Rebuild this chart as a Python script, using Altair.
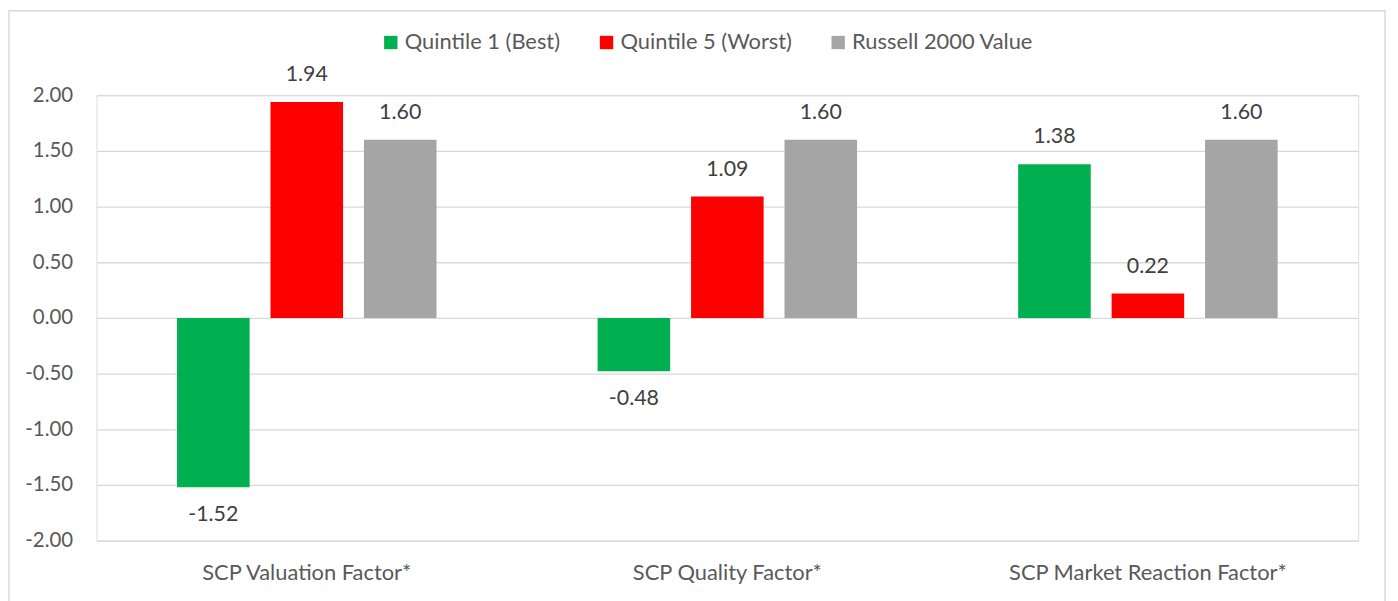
import altair as alt
import pandas as pd

categories = ["SCP Valuation Factor*", "SCP Quality Factor*", "SCP Market Reaction Factor*"]
series = ["Quintile 1 (Best)", "Quintile 5 (Worst)", "Russell 2000 Value"]
q1_best = [-1.52, -0.48, 1.38]
q5_worst = [1.94, 1.09, 0.22]
russell = [1.60, 1.60, 1.60]
y_ticks = [-2.0, -1.5, -1.0, -0.5, 0.0, 0.5, 1.0, 1.5, 2.0]
colors = ["#00B050", "#FF0000", "#A5A5A5"]

rows = []
for s, vals in zip(series, [q1_best, q5_worst, russell]):
    for c, v in zip(categories, vals):
        rows.append({"category": c, "series": s, "value": v})
df = pd.DataFrame(rows)

FONT = "Lato"
TXT = "#595959"

x_enc = alt.X("category:N", sort=categories, title=None,
              scale=alt.Scale(paddingInner=0, paddingOuter=0),
              axis=alt.Axis(labelAngle=0, ticks=False, domain=False, grid=False,
                            labelPadding=22, labelFontSize=22, labelFont=FONT,
                            labelColor=TXT, labelLimit=0))
xoff_enc = alt.XOffset("series:N", sort=series,
                       scale=alt.Scale(paddingInner=0.2234, paddingOuter=0.862))
y_enc = alt.Y("value:Q", title=None,
              scale=alt.Scale(domain=[-2, 2], nice=False, zero=False),
              axis=alt.Axis(values=y_ticks, format=".2f", ticks=False, domain=False,
                            labelExpr="replace(datum.label, '\u2212', '-')",
                            labelPadding=24, labelFontSize=20.5, labelFont=FONT,
                            labelColor=TXT, gridColor="#D9D9D9", gridWidth=1.3,
                            labelLimit=0))

base = alt.Chart(df).encode(x=x_enc, xOffset=xoff_enc).transform_calculate(
    label="replace(format(datum.value, '.2f'), '\u2212', '-')"
)

bars = base.mark_bar().encode(
    y=y_enc,
    y2=alt.datum(0),
    color=alt.Color("series:N", sort=series,
                    scale=alt.Scale(domain=series, range=colors),
                    legend=alt.Legend(title=None, orient="none", direction="horizontal",
                                      legendX=285, legendY=-64, symbolType="square",
                                      symbolSize=180, symbolStrokeWidth=0,
                                      labelFontSize=22, labelFont=FONT, labelColor=TXT,
                                      labelOffset=3, columnPadding=35, padding=0,
                                      labelLimit=0)),
)

pos_labels = base.transform_filter("datum.value >= 0").mark_text(
    dy=-27, baseline="middle", fontSize=21.5, font=FONT, color="#404040"
).encode(y="value:Q", text="label:N")

neg_labels = base.transform_filter("datum.value < 0").mark_text(
    dy=28, baseline="middle", fontSize=21.5, font=FONT, color="#404040"
).encode(y="value:Q", text="label:N")

frame = alt.Chart(pd.DataFrame({"k": [0]})).mark_rect(
    fill=None, stroke="#D9D9D9", strokeWidth=1.5
).encode(x=alt.value(-88), x2=alt.value(1296), y=alt.value(-85), y2=alt.value(520))

chart = alt.layer(frame, bars, pos_labels, neg_labels).properties(
    width=1269, height=448,
    autosize=alt.AutoSizeParams(type="none"),
    padding={"left": 89, "top": 86, "right": 32, "bottom": 59},
).configure_view(stroke=None).configure(background="white")

chart.save("out.html", embed_options={"renderer": "svg", "actions": False})
